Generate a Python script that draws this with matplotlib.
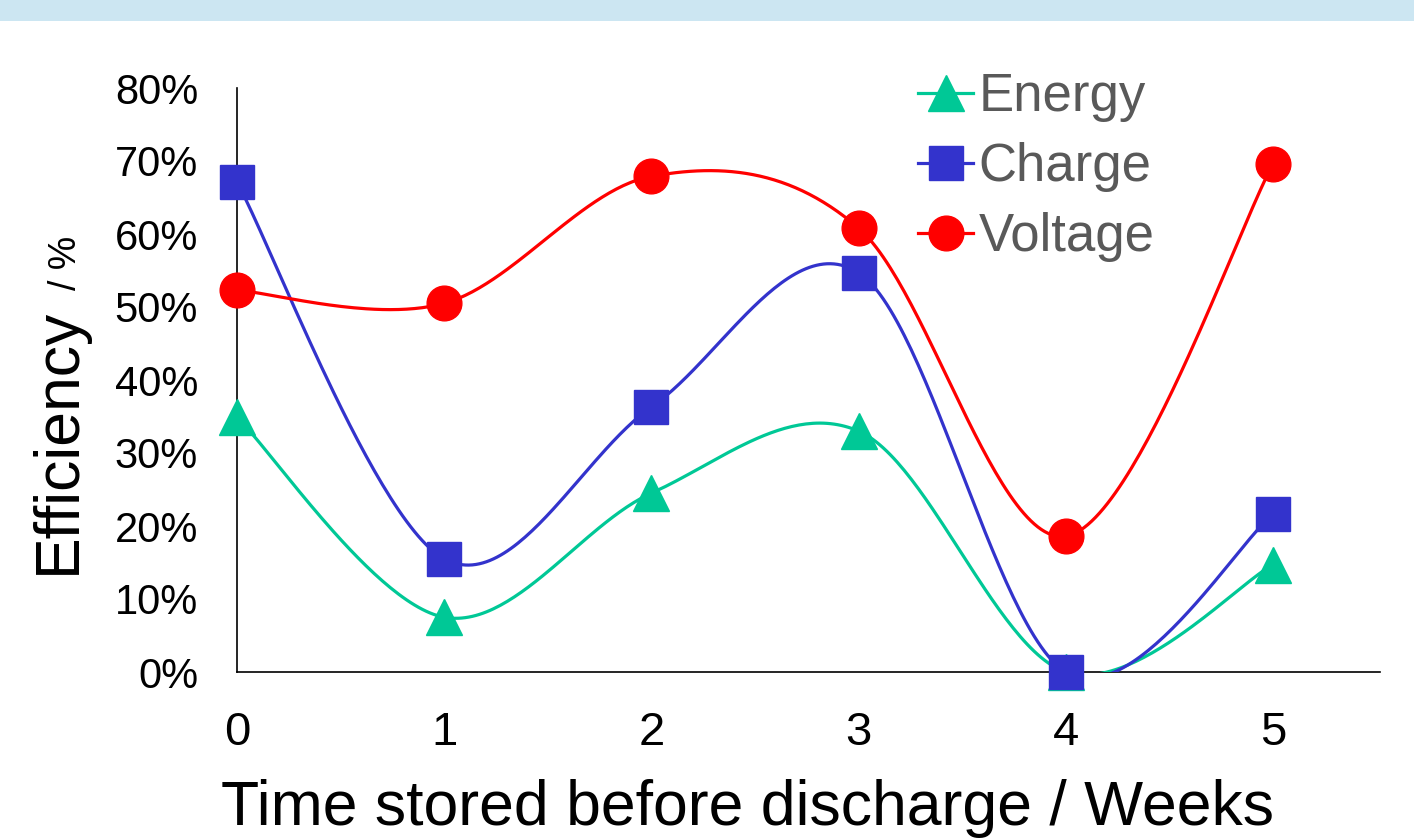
import matplotlib
matplotlib.use("Agg")
import matplotlib.pyplot as plt
from matplotlib.patches import Rectangle
from matplotlib.ticker import PercentFormatter
import numpy as np

plt.rcParams['font.family'] = ['Liberation Sans', 'DejaVu Sans']

weeks = [0, 1, 2, 3, 4, 5]
energy = [0.349, 0.075, 0.245, 0.330, 0.0, 0.147]
charge = [0.671, 0.155, 0.363, 0.547, 0.0, 0.216]
voltage = [0.523, 0.505, 0.679, 0.608, 0.186, 0.696]

series = [
    ("Energy", energy, "#00c896", "^", 26),
    ("Charge", charge, "#3333cc", "s", 25),
    ("Voltage", voltage, "#ff0000", "o", 25),
]


def smooth(x, y, n=60):
    # Excel-style smoothed line (Catmull-Rom bezier segments)
    pts = np.column_stack([x, y]).astype(float)
    P = np.vstack([pts[0], pts, pts[-1]])
    out = []
    t = np.linspace(0, 1, n)[:, None]
    for i in range(len(pts) - 1):
        p0, p1, p2, p3 = P[i], P[i + 1], P[i + 2], P[i + 3]
        c1 = p1 + (p2 - p0) / 6
        c2 = p2 - (p3 - p1) / 6
        seg = (1 - t) ** 3 * p1 + 3 * (1 - t) ** 2 * t * c1 + 3 * (1 - t) * t ** 2 * c2 + t ** 3 * p2
        out.append(seg)
    out = np.vstack(out)
    return out[:, 0], out[:, 1]


fig = plt.figure(figsize=(14.14, 8.4), dpi=100)
fig.patches.append(Rectangle((0, 1 - 21 / 840), 1, 21 / 840, transform=fig.transFigure,
                             facecolor="#cce6f2", edgecolor="none"))

ax = fig.add_axes([237 / 1414, 168 / 840, 1143 / 1414, 584 / 840])

handles = []
for name, vals, col, mk, ms in series:
    sx, sy = smooth(weeks, vals)
    ax.plot(sx, sy, color=col, lw=2.3, zorder=2)
    ax.plot(weeks, vals, linestyle="none", marker=mk, ms=ms, color=col, clip_on=False, zorder=3)
    h, = ax.plot([], [], color=col, lw=2.3, marker=mk, ms=ms)
    handles.append(h)

ax.set_xlim(0, 5.516)
ax.set_ylim(0, 0.8)
ax.set_xticks(weeks)
ax.set_yticks(np.arange(0, 0.81, 0.1))
ax.yaxis.set_major_formatter(PercentFormatter(1.0, decimals=0))
ax.tick_params(axis="x", length=0, pad=28, labelsize=34)
ax.tick_params(axis="y", length=0, pad=28, labelsize=30)
for s in ["top", "right"]:
    ax.spines[s].set_visible(False)
for s in ["left", "bottom"]:
    ax.spines[s].set_linewidth(1.2)
    ax.spines[s].set_zorder(1)

leg = ax.legend(handles, [s[0] for s in series], loc="upper left",
                bbox_to_anchor=(918 / 1414, 1 - 72 / 840), bbox_transform=fig.transFigure,
                frameon=False, fontsize=38, handlelength=1.05, handletextpad=0.1,
                labelspacing=0.38, borderpad=0, borderaxespad=0, labelcolor="#595959")

fig.text(748 / 1414, 1 - 825 / 840, "Time stored before discharge / Weeks",
         fontsize=45, ha="center", va="baseline")
fig.text(58 / 1414, 1 - 574 / 840, "Efficiency", fontsize=45, rotation=90,
         ha="center", va="bottom")
fig.text(66 / 1414, 1 - 290 / 840, "/ %", fontsize=27, rotation=90,
         ha="center", va="bottom")

fig.savefig("out.png", dpi=100)
